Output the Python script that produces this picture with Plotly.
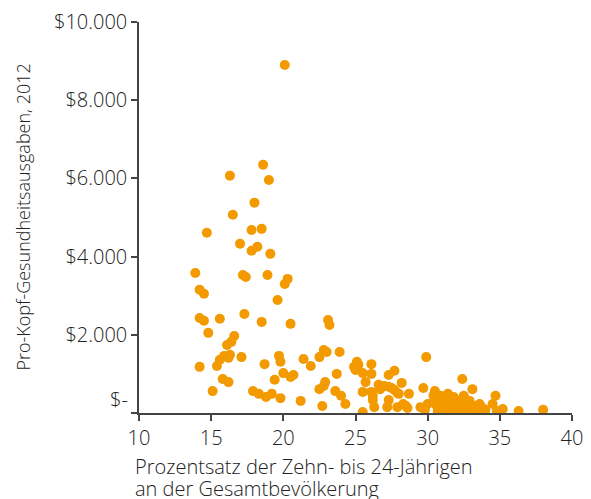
import plotly.graph_objects as go

# Anteil der 10- bis 24-Jährigen (%) und Pro-Kopf-Gesundheitsausgaben 2012 ($)
youth_share = [
    20.1, 18.6, 16.3, 19.0, 18.0, 16.5, 14.7, 17.8, 18.5, 17.0,
    17.8, 18.2, 19.1, 13.9, 17.2, 17.4, 18.9, 20.3, 20.1, 14.2,
    14.5, 19.6, 14.2, 14.5, 15.6, 17.3, 18.5, 20.5, 23.1, 23.2,
    14.8, 16.6, 16.4, 16.1, 15.6, 15.9, 16.2, 16.3, 17.1, 14.2,
    15.4, 18.7, 19.7, 19.8, 21.4, 21.9, 22.5, 22.8, 23.0, 15.8,
    16.2, 20.0, 20.5, 20.7, 19.4, 15.1, 17.9, 18.3, 18.8, 19.2,
    19.8, 21.2, 22.7, 22.5, 22.8, 22.9, 23.9, 23.6, 23.7, 24.0,
    24.3, 25.1, 25.2, 25.0, 24.9, 26.1, 26.1, 25.5, 25.7, 25.5,
    25.5, 26.1, 26.2, 26.2, 26.3, 26.6, 26.7, 27.3, 27.7, 27.0,
    27.3, 27.5, 27.7, 27.9, 28.0, 28.2, 28.7, 27.3, 27.2, 27.9,
    28.3, 28.5, 28.6, 29.9, 29.7, 29.5, 29.8, 30.0, 30.5, 30.4,
    32.4, 33.1, 31.4, 32.7, 32.8, 34.7, 34.5, 35.2, 34.8, 36.3,
    38.0, 33.8, 33.4, 29.8, 30.4, 30.6, 30.9, 31.0, 31.2, 31.4,
    31.5, 31.7, 31.9, 32.0, 32.2, 32.4, 32.5, 32.7, 32.8, 32.9,
    33.1, 33.2, 33.4, 33.6, 34.0, 30.7, 31.3, 32.1, 30.9, 31.8,
    32.5,
]
health_spend = [
    8900, 6350, 6070, 5960, 5380, 5070, 4610, 4680, 4710, 4330,
    4150, 4250, 4070, 3580, 3530, 3480, 3530, 3430, 3300, 3150,
    3050, 2890, 2430, 2360, 2410, 2530, 2330, 2280, 2380, 2250,
    2050, 1970, 1820, 1740, 1360, 1460, 1410, 1490, 1430, 1180,
    1200, 1250, 1460, 1310, 1380, 1200, 1430, 1610, 1560, 870,
    790, 1020, 920, 970, 850, 560, 560, 490, 410, 490,
    380, 310, 180, 610, 690, 790, 1560, 560, 1000, 440,
    230, 1310, 1230, 1100, 1180, 1250, 1000, 1020, 790, 540,
    25, 540, 440, 330, 150, 720, 610, 970, 1080, 690,
    670, 640, 590, 510, 490, 770, 490, 330, 150, 150,
    230, 180, 130, 1430, 640, 150, 130, 230, 560, 440,
    870, 610, 490, 330, 310, 440, 230, 100, 50, 50,
    80, 130, 80, 80, 280, 200, 130, 330, 80, 230,
    380, 150, 50, 280, 180, 360, 80, 230, 130, 310,
    50, 180, 100, 230, 80, 50, 30, 0, 440, 410,
    440,
]

y_ticks = [0, 2000, 4000, 6000, 8000, 10000]
y_labels = ["", "$2.000", "$4.000", "$6.000", "$8.000", "$10.000"]
x_ticks = [10, 15, 20, 25, 30, 35, 40]

FONT = "Open Sans"
ORANGE = "#F29A00"
AXIS = "#444444"
TEXT = "#222222"

fig = go.Figure(
    go.Scatter(
        x=youth_share,
        y=health_spend,
        mode="markers",
        marker=dict(color=ORANGE, size=10, line=dict(width=0)),
        hoverinfo="x+y",
    )
)

axis_style = dict(
    ticks="outside",
    ticklen=6,
    tickwidth=1.5,
    tickcolor=AXIS,
    showline=True,
    linecolor=AXIS,
    linewidth=1.5,
    showgrid=False,
    zeroline=False,
    automargin=False,
    tickfont=dict(family=FONT, size=20, color=TEXT, weight=300),
)
fig.update_xaxes(range=[10, 40], tickvals=x_ticks, **axis_style)
fig.update_yaxes(range=[0, 10000], tickvals=y_ticks, ticktext=y_labels, **axis_style)

# "$-" label sits a little above the zero tick in the original
fig.add_annotation(
    x=0, xref="paper", y=0, yref="y",
    text="$-", showarrow=False, xanchor="right", yanchor="middle",
    xshift=-9, yshift=14,
    font=dict(family=FONT, size=20, color=TEXT, weight=300),
)
# x title, two lines set a bit tighter than plotly's default line height
x_title_lines = ["Prozentsatz der Zehn- bis 24-Jährigen", "an der Gesamtbevölkerung"]
for line, ypos in zip(x_title_lines, [-0.138, -0.193]):
    fig.add_annotation(
        x=-0.014, xref="paper", y=ypos, yref="paper",
        text=line, showarrow=False, xanchor="left", yanchor="middle",
        font=dict(family=FONT, size=20, color=TEXT, weight=300),
    )
fig.add_annotation(
    x=-0.27, xref="paper", y=0.5, yref="paper",
    text="Pro-Kopf-Gesundheitsausgaben, 2012",
    textangle=-90, showarrow=False, xanchor="center", yanchor="middle",
    font=dict(family=FONT, size=18, color=TEXT, weight=300),
)

# the page body keeps its default 8px margin, so the figure is 8px smaller
fig.update_layout(
    width=583,
    height=491,
    margin=dict(l=131, r=19, t=14, b=86),
    paper_bgcolor="white",
    plot_bgcolor="white",
    showlegend=False,
)

fig.write_html("out.html")
